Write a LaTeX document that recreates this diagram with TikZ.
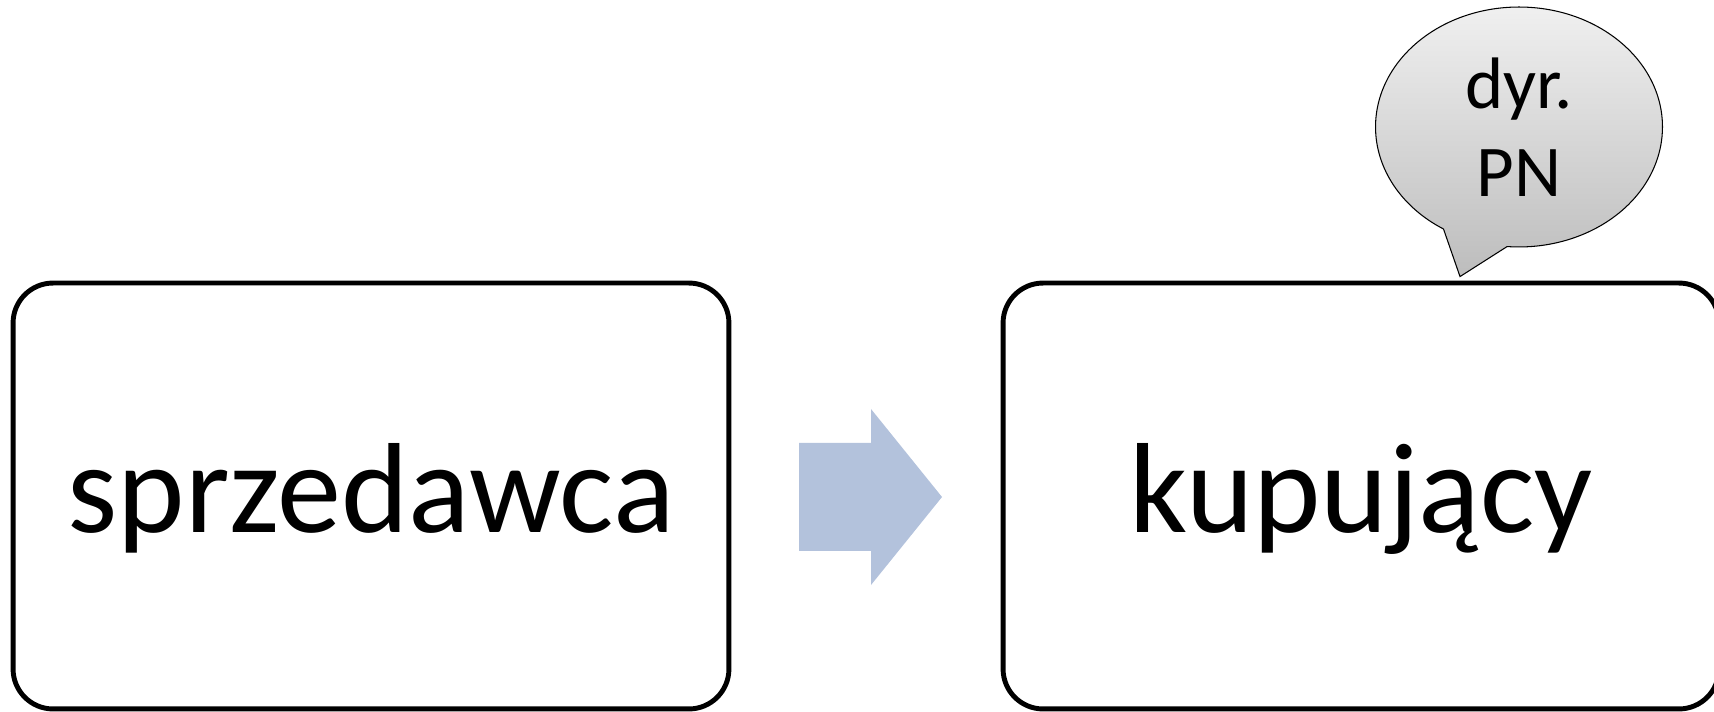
\documentclass[tikz,border=0pt]{standalone}
\usepackage{fontspec}
\setmainfont{Carlito}
\usetikzlibrary{shapes.callouts,positioning,calc}

\definecolor{arrowblue}{RGB}{179,194,220}

\tikzset{
  rolebox/.style={draw=black, line width=2.8pt, rounded corners=0.8cm,
    minimum width=14.32cm, minimum height=8.52cm, inner sep=0pt,
    text height=57pt, text depth=16pt,
    font=\fontsize{73}{87}\selectfont},
  flowarrow/.style={fill=arrowblue, draw=none},
  bubble/.style={ellipse callout, draw=black, line width=0.6pt,
    top color=gray!12, bottom color=gray!52, minimum width=5.74cm,
    minimum height=4.8cm, inner sep=0pt, align=center,
    callout pointer arc=27, font=\fontsize{41.5}{50}\selectfont}
}

\begin{document}
\begin{tikzpicture}[x=0.02cm,y=-0.02cm]
\useasboundingbox (0,0) rectangle (1714,712);

\node[rolebox] (seller) at (371,496) {sprzedawca};
\node[rolebox] (buyer) at (1361,496) {kupujący};

\coordinate (A1) at (799,443);
\coordinate (A2) at (871,443);
\coordinate (A3) at (871,409);
\coordinate (A4) at (942,497);
\coordinate (A5) at (871,585);
\coordinate (A6) at (871,551);
\coordinate (A7) at (799,551);
\fill[flowarrow] (A1) -- (A2) -- (A3) -- (A4) -- (A5) -- (A6) -- (A7) -- cycle;

\coordinate (tip) at ($(buyer.north)+(99,-4)$);
\node[bubble, callout absolute pointer={(tip)}] (note) at (1519,127) {dyr.\\PN};

\end{tikzpicture}
\end{document}
